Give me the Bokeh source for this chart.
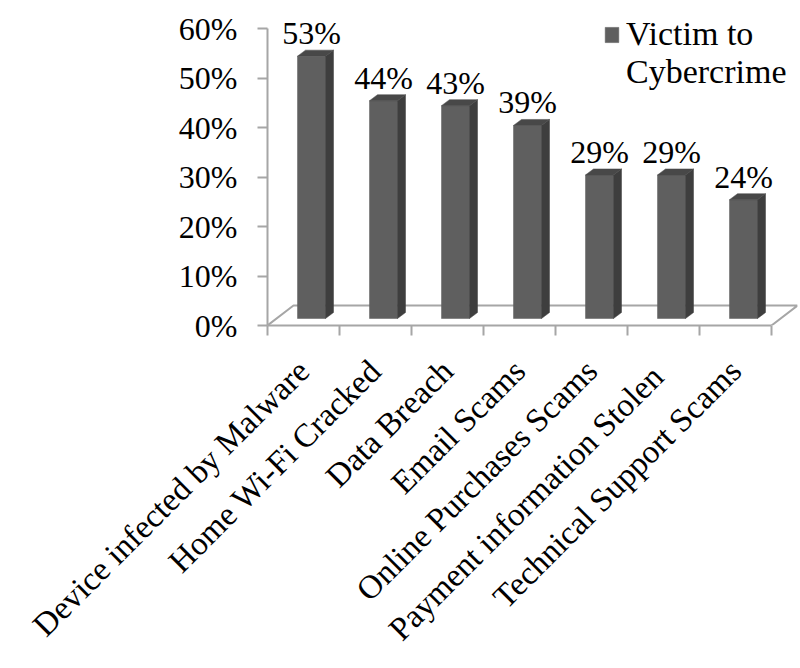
import numpy as np
from bokeh.plotting import figure
from bokeh.models import Range1d, FixedTicker, NumeralTickFormatter, Legend, LegendItem, ColumnDataSource
from bokeh.core.properties import value
from bokeh.embed import file_html
from bokeh.resources import INLINE

# ---- data ----
categories = ["Device infected by Malware", "Home Wi-Fi Cracked", "Data Breach", "Email Scams",
              "Online Purchases Scams", "Payment information  Stolen", "Technical Support Scams"]
victim_pct = [0.53, 0.44, 0.43, 0.39, 0.29, 0.29, 0.24]
value_labels = ["53%", "44%", "43%", "39%", "29%", "29%", "24%"]
y_ticks = [0.0, 0.1, 0.2, 0.3, 0.4, 0.5, 0.6]
series_name_lines = ["Victim to", "Cybercrime"]

# ---- styles (pixel geometry of the pseudo-3D look) ----
FONT = "Liberation Serif"
PX_X = 72.0     # px per category
PX_Y = 495.0    # px per 1.0 (100%)
FLOOR_DX, FLOOR_DY = 26 / PX_X, 20 / PX_Y
BAR_OFF_X, BAR_OFF_Y = 8 / PX_X, 7 / PX_Y
BAR_W = 28 / PX_X
SIDE_DX, SIDE_DY = 8 / PX_X, 6 / PX_Y
AXIS_GRAY = "#a6a6a6"
FRONT, SIDE, TOP = "#5f5f5f", "#3e3e3e", "#484848"

n = len(categories)
centers = np.arange(n) + 0.5
left = centers + BAR_OFF_X - BAR_W / 2
right = centers + BAR_OFF_X + BAR_W / 2
base = np.full(n, BAR_OFF_Y)
top = base + np.array(victim_pct)

side_xs = [[r, r + SIDE_DX, r + SIDE_DX, r] for r in right]
side_ys = [[b, b + SIDE_DY, t + SIDE_DY, t] for b, t in zip(base, top)]
top_xs = [[l, r, r + SIDE_DX, l + SIDE_DX] for l, r in zip(left, right)]
top_ys = [[t, t, t + SIDE_DY, t + SIDE_DY] for t in top]

x_end = 530 / PX_X
y_end = 320 / PX_Y

p = figure(width=800, height=668, output_backend="svg", toolbar_location=None,
           x_range=Range1d(0, x_end), y_range=Range1d(0, y_end),
           min_border_left=267, min_border_right=3, min_border_top=5, min_border_bottom=343)
p.outline_line_color = None
p.grid.visible = False
p.background_fill_color = "white"

# floor (3D base)
floor_x = [0, FLOOR_DX, n + FLOOR_DX, n]
floor_y = [0, FLOOR_DY, FLOOR_DY, 0]
p.line(floor_x, floor_y, line_color=AXIS_GRAY, line_width=2)

# bars
src = ColumnDataSource(dict(left=left, right=right, base=base, top=top,
                            cx=centers + BAR_OFF_X, lab=value_labels))
front = p.quad(left="left", right="right", bottom="base", top="top", source=src,
               fill_color=FRONT, line_color=FRONT, line_width=0.5)
p.patches(side_xs, side_ys, fill_color=SIDE, line_color=SIDE, line_width=0.5)
p.patches(top_xs, top_ys, fill_color=TOP, line_color=TOP, line_width=0.5)

# value labels
p.text(x="cx", y="top", text="lab", source=src, text_align="center", text_baseline="alphabetic",
       y_offset=-23, text_font=value(FONT), text_font_size="32px", text_color="black")

# axes
xa = p.xaxis[0]
xa.ticker = FixedTicker(ticks=list(centers), minor_ticks=list(range(n + 1)))
xa.major_label_overrides = {float(c): lab for c, lab in zip(centers, categories)}
xa.bounds = (0, n)
xa.axis_line_color = AXIS_GRAY
xa.axis_line_width = 2
xa.major_tick_line_color = None
xa.minor_tick_line_color = AXIS_GRAY
xa.minor_tick_line_width = 2
xa.minor_tick_out = 10
xa.minor_tick_in = 0
xa.major_label_orientation = np.pi / 4
xa.major_label_text_font = FONT
xa.major_label_text_font_size = "33px"
xa.major_label_text_color = "black"
xa.major_label_standoff = 30

ya = p.yaxis[0]
ya.ticker = FixedTicker(ticks=y_ticks)
ya.formatter = NumeralTickFormatter(format="0%")
ya.bounds = (0, max(y_ticks))
ya.axis_line_color = AXIS_GRAY
ya.axis_line_width = 2
ya.major_tick_line_color = AXIS_GRAY
ya.major_tick_line_width = 2
ya.major_tick_out = 10
ya.major_tick_in = 0
ya.minor_tick_line_color = None
ya.major_label_text_font = FONT
ya.major_label_text_font_size = "32px"
ya.major_label_text_color = "black"
ya.major_label_standoff = 20

# second legend line carries no swatch
blank = p.quad(left=[], right=[], bottom=[], top=[], fill_alpha=0, line_alpha=0)
legend = Legend(items=[LegendItem(label=series_name_lines[0], renderers=[front]),
                       LegendItem(label=series_name_lines[1], renderers=[blank])],
                location=(336, 234), padding=0, margin=0, spacing=-12, border_line_color=None,
                background_fill_alpha=0, glyph_width=17, glyph_height=19, label_standoff=6,
                label_text_font=FONT, label_text_font_size="34px", label_text_color="black")
p.add_layout(legend)

open("out.html", "w").write(file_html(p, INLINE))
